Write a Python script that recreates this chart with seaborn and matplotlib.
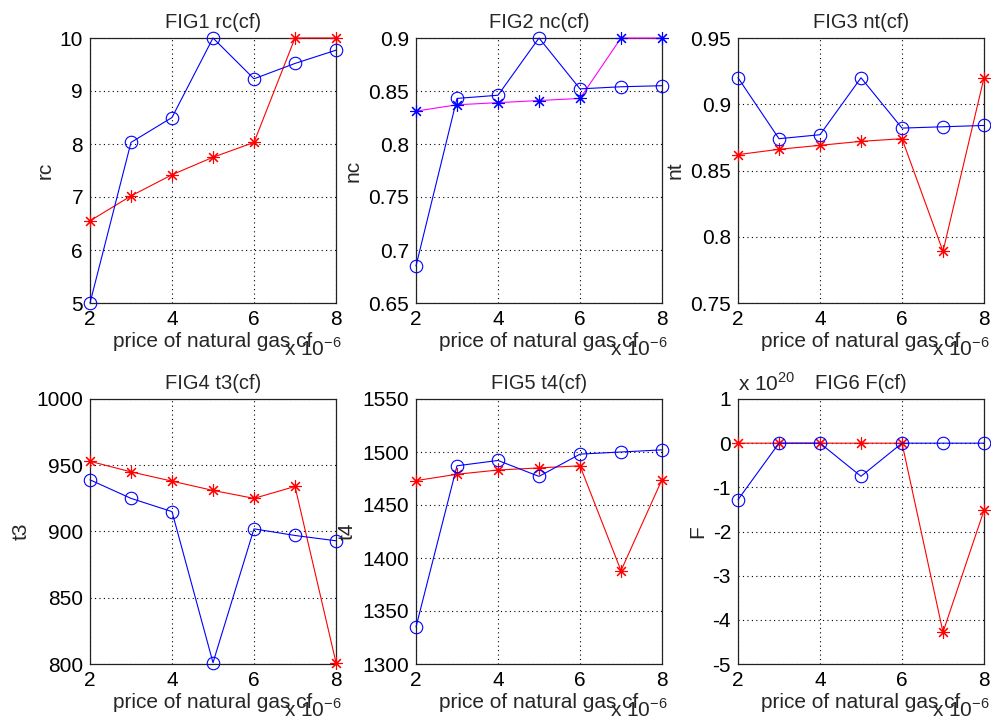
import numpy as np
import pandas as pd
import matplotlib
matplotlib.use("Agg")
import matplotlib.pyplot as plt
import seaborn as sns

sns.set_style("white")
plt.rcParams["font.family"] = ["Liberation Sans", "DejaVu Sans"]
plt.rcParams["mathtext.fontset"] = "custom"
plt.rcParams["mathtext.rm"] = "Liberation Sans"

# price of natural gas (in units of 1e-6)
cf = [2, 3, 4, 5, 6, 7, 8]

rc_circ = [5.0, 8.03, 8.5, 10.0, 9.23, 9.52, 9.77]
rc_star = [6.55, 7.02, 7.42, 7.75, 8.03, 10.0, 10.0]

nc_circ = [0.685, 0.843, 0.846, 0.9, 0.852, 0.854, 0.855]
nc_star = [0.831, 0.837, 0.839, 0.841, 0.843, 0.9, 0.9]

nt_circ = [0.92, 0.874, 0.877, 0.92, 0.882, 0.883, 0.884]
nt_star = [0.862, 0.866, 0.869, 0.872, 0.874, 0.789, 0.92]

t3_circ = [939, 925, 915, 801, 902, 897, 893]
t3_star = [953, 945, 938, 931, 925, 934, 801]

t4_circ = [1335, 1487, 1492, 1477, 1498, 1500, 1502]
t4_star = [1473, 1479, 1483, 1485, 1487, 1388, 1474]

# F in units of 1e20
F_circ = [-1.28, 0, 0, -0.75, 0, 0, 0]
F_star = [0, 0, 0, 0, 0, -4.28, -1.52]

titles = ["FIG1 rc(cf)", "FIG2 nc(cf)", "FIG3 nt(cf)",
          "FIG4 t3(cf)", "FIG5 t4(cf)", "FIG6 F(cf)"]
ylabels = ["rc", "nc", "nt", "t3", "t4", "F"]
series = [(rc_circ, rc_star), (nc_circ, nc_star), (nt_circ, nt_star),
          (t3_circ, t3_star), (t4_circ, t4_star), (F_circ, F_star)]
ylims = [(5, 10), (0.65, 0.9), (0.75, 0.95), (800, 1000), (1300, 1550), (-5, 1)]
yticks = [
    [5, 6, 7, 8, 9, 10],
    [0.65, 0.7, 0.75, 0.8, 0.85, 0.9],
    [0.75, 0.8, 0.85, 0.9, 0.95],
    [800, 850, 900, 950, 1000],
    [1300, 1350, 1400, 1450, 1500, 1550],
    [-5, -4, -3, -2, -1, 0, 1],
]
yticklabels = [
    ["5", "6", "7", "8", "9", "10"],
    ["0.65", "0.7", "0.75", "0.8", "0.85", "0.9"],
    ["0.75", "0.8", "0.85", "0.9", "0.95"],
    ["800", "850", "900", "950", "1000"],
    ["1300", "1350", "1400", "1450", "1500", "1550"],
    ["-5", "-4", "-3", "-2", "-1", "0", "1"],
]
star_line_colors = ["red", "magenta", "red", "red", "red", "red"]
star_marker_colors = ["red", "blue", "red", "red", "red", "red"]

W, H = 991, 720
fig = plt.figure(figsize=(W / 100, H / 100), dpi=100)
lefts = [90, 416, 738]
tops = [38, 399]
aw, ah = 246, 265

asterisk = (8, 2, 0)

for i in range(6):
    r, c = divmod(i, 3)
    ax = fig.add_axes([lefts[c] / W, 1 - (tops[r] + ah) / H, aw / W, ah / H])
    circ, star = series[i]
    df = pd.DataFrame({"cf": cf, "circ": circ, "star": star})

    sns.lineplot(data=df, x="cf", y="star", ax=ax, color=star_line_colors[i],
                 lw=0.8, marker=asterisk, markersize=9,
                 markeredgecolor=star_marker_colors[i], markeredgewidth=0.8,
                 clip_on=False, zorder=3)
    sns.lineplot(data=df, x="cf", y="circ", ax=ax, color="blue", lw=0.8,
                 marker="o", markersize=9, markerfacecolor="none",
                 markeredgecolor="blue", markeredgewidth=0.8,
                 clip_on=False, zorder=4)

    ax.set_xlim(2, 8)
    ax.set_ylim(*ylims[i])
    ax.set_xticks([2, 4, 6, 8])
    ax.set_xticklabels(["2", "4", "6", "8"])
    ax.set_yticks(yticks[i])
    ax.set_yticklabels(yticklabels[i])
    ax.tick_params(direction="in", length=4, width=0.8, labelsize=15,
                   colors="black", pad=5)
    ax.grid(True, linestyle=(0, (1, 3)), color="black", lw=0.8)
    for s in ax.spines.values():
        s.set_color("#222222")
        s.set_linewidth(0.9)
    ax.set_title(titles[i], fontsize=14.5, pad=7)
    ax.set_ylabel(ylabels[i], fontsize=15, labelpad=4)
    ax.set_xlabel("price of natural gas cf", fontsize=15, labelpad=2)
    ax.text(0.79, -0.172, r"x 10$^{-6}$", transform=ax.transAxes,
            fontsize=15, ha="left", va="center")
    if i == 5:
        ax.text(0.0, 1.06, r"x 10$^{20}$", transform=ax.transAxes,
                fontsize=15, ha="left", va="center")

fig.savefig("out.png", dpi=100)
